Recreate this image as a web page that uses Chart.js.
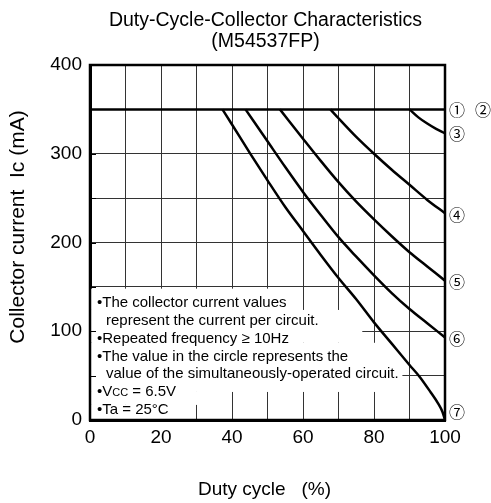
<!DOCTYPE html>
<html>
<head>
<meta charset="utf-8">
<script src="https://cdn.jsdelivr.net/npm/chart.js@4.4.0/dist/chart.umd.min.js"></script>
<style>
  html, body { margin: 0; padding: 0; background: #fff; }
  #wrap { width: 491px; height: 503px; position: relative; }
</style>
</head>
<body>
<div id="wrap"><canvas id="dutyChart"></canvas></div>
<script>
// Values: duty cycle (%) -> collector current (mA)
var curve12Duty = [0, 100];
var curve12Ic = [350, 350];
var curve3Duty = [90, 92.5, 95, 97.5, 100];
var curve3Ic = [350, 341, 334, 328, 323];
var curve4Duty = [67.7, 70, 75, 80, 85, 90, 95, 100];
var curve4Ic = [350, 340, 319, 300, 282, 265, 248, 233];
var curve5Duty = [53.5, 60, 65, 70, 75, 80, 85, 90, 95, 100];
var curve5Ic = [350, 317, 292, 268, 246, 226, 207, 189, 173, 157];
var curve6Duty = [43.8, 50, 55, 60, 65, 70, 75, 80, 85, 90, 95, 100];
var curve6Ic = [350, 314, 285, 257, 231, 206, 184, 163, 143, 125, 109, 93];
var curve7Duty = [37.3, 40, 45, 50, 55, 60, 65, 70, 75, 80, 85, 90, 93, 96, 98, 99.3, 100];
var curve7Ic = [350, 333, 301, 270, 240, 213, 186, 160, 136, 110, 86, 62, 48, 31, 19, 9, 0];

// circled numbers at the right edge, and the current where each one sits
var circleLabels = ['①', '②', '③', '④', '⑤', '⑥', '⑦'];
var circleLabelIc = [350, 350, 323, 232, 157, 93, 10];

var titleLines = ['Duty-Cycle-Collector Characteristics', '(M54537FP)'];
var xTitle = 'Duty cycle   (%)';
var yTitle = 'Collector current  Ic (mA)';
var noteLines = [
  '•The collector current values',
  ' represent the current per circuit.',
  '•Repeated frequency \u2265 10Hz',
  '•The value in the circle represents the',
  ' value of the simultaneously-operated circuit.',
  '•Ta = 25°C'
];

var FONT = "'Liberation Sans', Arial, sans-serif";

function toPoints(xs, ys) {
  var pts = [];
  for (var i = 0; i < xs.length; i++) {
    pts.push({ x: xs[i], y: ys[i] });
  }
  return pts;
}

function curve(xs, ys) {
  return {
    data: toPoints(xs, ys),
    borderColor: '#000',
    borderWidth: 2.5,
    pointRadius: 0,
    fill: false,
    cubicInterpolationMode: 'monotone'
  };
}

var sheetPlugin = {
  id: 'sheetText',
  beforeDatasetsDraw: function(chart) {
    var ctx = chart.ctx;
    var xs = chart.scales.x;
    var ys = chart.scales.y;
    var area = chart.chartArea;

    // white patches behind the note text (duty from, duty to, Ic top, Ic bottom)
    var masks = [[0, 59, 148, 124], [0, 76.7, 124, 87], [0, 88, 87, 31.6], [0, 35, 31.6, 17], [0, 25, 17, 0]];
    ctx.save();
    ctx.fillStyle = '#fff';
    for (var i = 0; i < masks.length; i++) {
      var x0 = xs.getPixelForValue(masks[i][0]);
      var x1 = xs.getPixelForValue(masks[i][1]);
      var y0 = ys.getPixelForValue(masks[i][2]);
      var y1 = ys.getPixelForValue(masks[i][3]);
      ctx.fillRect(x0, y0, x1 - x0, y1 - y0);
    }

    // small inside ticks on the y axis
    ctx.strokeStyle = '#000';
    ctx.lineWidth = 1;
    for (var v = 50; v < 400; v += 50) {
      var ty = Math.round(ys.getPixelForValue(v)) + 0.5;
      ctx.beginPath();
      ctx.moveTo(area.left, ty);
      ctx.lineTo(area.left + 6, ty);
      ctx.stroke();
    }

    // notes
    ctx.fillStyle = '#000';
    ctx.textBaseline = 'middle';
    ctx.textAlign = 'left';
    ctx.font = '15px ' + FONT;
    var lineY = [303, 321, 339, 357, 374];
    for (var j = 0; j < 5; j++) {
      var lx = noteLines[j].charAt(0) === ' ' ? area.left + 16 : area.left + 7;
      ctx.fillText(noteLines[j].trim(), lx, lineY[j]);
    }
    // VCC line with small caps subscript
    var vx = area.left + 7;
    ctx.fillText('•V', vx, 392);
    vx += ctx.measureText('•V').width;
    ctx.font = '11px ' + FONT;
    ctx.fillText('CC', vx, 393);
    vx += ctx.measureText('CC').width;
    ctx.font = '15px ' + FONT;
    ctx.fillText(' = 6.5V', vx, 392);
    ctx.fillText(noteLines[5], area.left + 7, 410);
    ctx.restore();
  },
  afterDatasetsDraw: function(chart) {
    var ctx = chart.ctx;
    var ys = chart.scales.y;
    var area = chart.chartArea;
    ctx.save();

    // frame round the plot
    ctx.strokeStyle = '#000';
    ctx.lineWidth = 2.5;
    ctx.strokeRect(area.left, area.top, area.right - area.left, area.bottom - area.top);

    // circled numbers
    ctx.fillStyle = '#000';
    ctx.textBaseline = 'middle';
    ctx.textAlign = 'center';
    ctx.font = "16px 'Noto Sans CJK JP', 'DejaVu Sans', sans-serif";
    for (var i = 0; i < circleLabels.length; i++) {
      var cx = area.right + (i === 1 ? 38 : 12);
      ctx.fillText(circleLabels[i], cx, ys.getPixelForValue(circleLabelIc[i]) + 1);
    }

    // titles
    var mid = (area.left + area.right) / 2;
    ctx.font = '19.5px ' + FONT;
    ctx.fillText(titleLines[0], mid - 2, 21);
    ctx.fillText(titleLines[1], mid - 2, 42);
    ctx.font = '19px ' + FONT;
    ctx.fillText(xTitle, mid - 3, 490);

    ctx.font = '21px ' + FONT;
    ctx.translate(18, 227);
    ctx.rotate(-Math.PI / 2);
    ctx.fillText(yTitle, 0, 0);
    ctx.restore();
  }
};

new Chart(document.getElementById('dutyChart').getContext('2d'), {
  type: 'line',
  data: {
    datasets: [
      curve(curve12Duty, curve12Ic),
      curve(curve3Duty, curve3Ic),
      curve(curve4Duty, curve4Ic),
      curve(curve5Duty, curve5Ic),
      curve(curve6Duty, curve6Ic),
      curve(curve7Duty, curve7Ic)
    ]
  },
  options: {
    responsive: true,
    maintainAspectRatio: false,
    animation: false,
    layout: {
      padding: { top: 65, right: 46, left: 0, bottom: 0 }
    },
    plugins: {
      legend: { display: false },
      tooltip: { enabled: false },
      title: { display: false }
    },
    scales: {
      x: {
        type: 'linear',
        min: 0,
        max: 100,
        afterFit: function(scale) { scale.height = 83; },
        border: { color: '#000', width: 3 },
        grid: { color: '#333', lineWidth: 1, drawTicks: false },
        ticks: {
          stepSize: 10,
          padding: 6,
          maxRotation: 0,
          color: '#000',
          font: { family: FONT, size: 19 },
          callback: function(value) { return value % 20 === 0 ? value : ''; }
        }
      },
      y: {
        type: 'linear',
        min: 0,
        max: 400,
        afterFit: function(scale) { scale.width = 90; },
        border: { color: '#000', width: 3 },
        grid: { color: '#333', lineWidth: 1, drawTicks: false },
        ticks: {
          stepSize: 50,
          padding: 8,
          color: '#000',
          font: { family: FONT, size: 19 },
          callback: function(value) { return value % 100 === 0 ? value : ''; }
        }
      }
    }
  },
  plugins: [sheetPlugin]
});
</script>
</body>
</html>
